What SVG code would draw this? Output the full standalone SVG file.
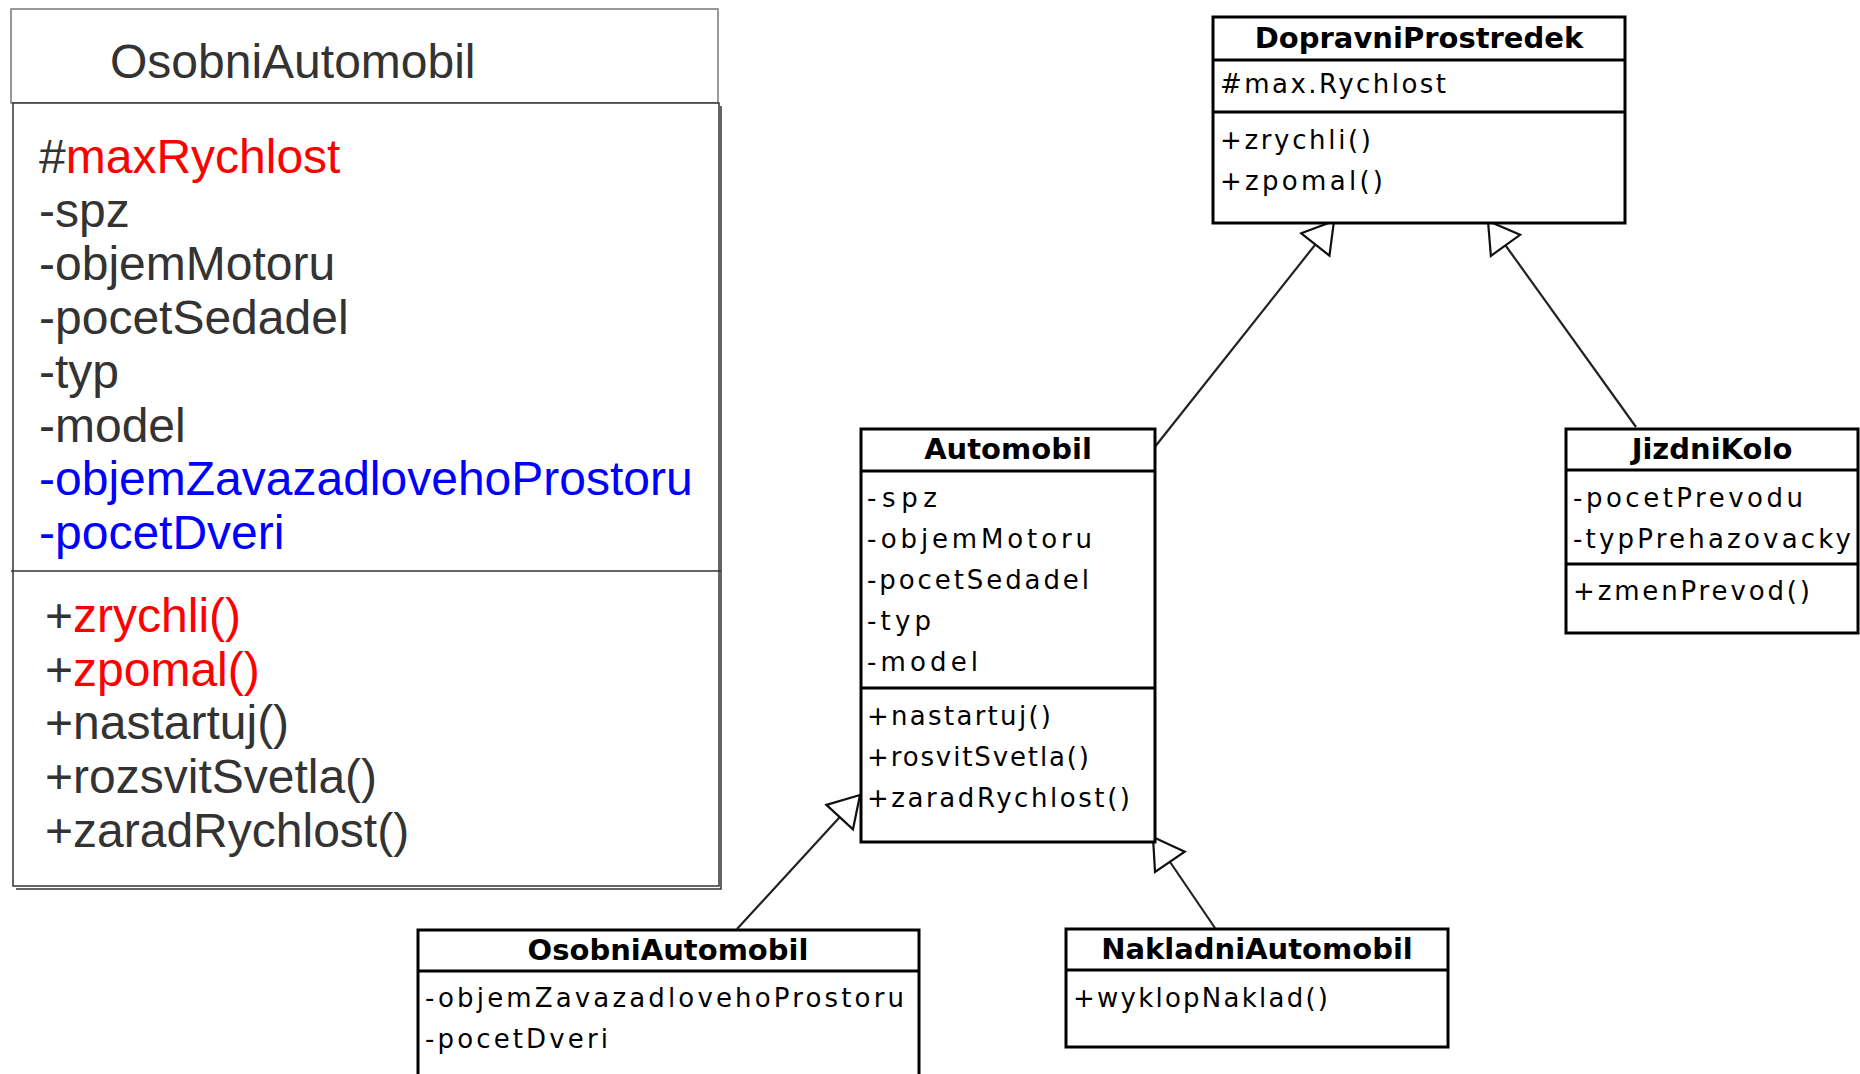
<svg xmlns="http://www.w3.org/2000/svg" width="1860" height="1074" viewBox="0 0 1860 1074">
<style>
.big{font-family:"Liberation Sans",Arial,sans-serif;font-size:48px;fill:#333333}
.red{fill:#ff0000}
.blue{fill:#0000ff}
.box{fill:#ffffff;stroke:#000000;stroke-width:3}
.sep{stroke:#000000;stroke-width:3}
.ttl{font-family:"DejaVu Sans",sans-serif;font-size:29px;font-weight:bold;fill:#000000;text-anchor:middle}
.txt{font-family:"DejaVu Sans",sans-serif;font-size:26px;fill:#000000}
.con{fill:none;stroke:#222222;stroke-width:2.2;marker-end:url(#tri)}
</style>
<defs>
<marker id="tri" markerUnits="userSpaceOnUse" viewBox="-3 -3 36 42" markerWidth="36" markerHeight="42" refX="30" refY="18" orient="auto">
<path d="M0,0 L30,18 L0,36 Z" fill="#ffffff" stroke="#111111" stroke-width="2.2"/>
</marker>
</defs>
<rect width="1860" height="1074" fill="#ffffff"/>

<g id="osobni-detail">
<rect x="11" y="9" width="707" height="94" fill="#ffffff" stroke="#777777" stroke-width="1.5"/>
<polyline points="721,106 721,889 16,889" fill="none" stroke="#333333" stroke-width="1.5"/>
<rect x="13" y="103" width="706" height="783" fill="#ffffff" stroke="#333333" stroke-width="1.5"/>
<line x1="11" y1="571" x2="721" y2="571" stroke="#333333" stroke-width="1.5"/>
<text class="big" x="110" y="78">OsobniAutomobil</text>
<text class="big" x="39" y="173">#<tspan class="red">maxRychlost</tspan></text>
<text class="big" x="39" y="226.7">-spz</text>
<text class="big" x="39" y="280.4">-objemMotoru</text>
<text class="big" x="39" y="334.1">-pocetSedadel</text>
<text class="big" x="39" y="387.8">-typ</text>
<text class="big" x="39" y="441.5">-model</text>
<text class="big blue" x="39" y="495.2">-objemZavazadlovehoProstoru</text>
<text class="big blue" x="39" y="548.9">-pocetDveri</text>
<text class="big" x="45" y="632">+<tspan class="red">zrychli()</tspan></text>
<text class="big" x="45" y="685.5">+<tspan class="red">zpomal()</tspan></text>
<text class="big" x="45" y="739">+nastartuj()</text>
<text class="big" x="45" y="793">+rozsvitSvetla()</text>
<text class="big" x="45" y="846.5">+zaradRychlost()</text>
</g>

<g id="connectors">
<path class="con" d="M1154,448 L1334,221"/>
<path class="con" d="M1636,427 L1488,221"/>
<path class="con" d="M737,929 L860,795"/>
<path class="con" d="M1215,928 L1153,837"/>
</g>

<g id="DopravniProstredek">
<rect class="box" x="1213" y="17" width="412" height="206"/>
<line class="sep" x1="1213" y1="60" x2="1625" y2="60"/>
<line class="sep" x1="1213" y1="112" x2="1625" y2="112"/>
<text class="ttl" x="1419" y="48">DopravniProstredek</text>
<text class="txt" x="1220" y="93" textLength="226" lengthAdjust="spacing">#max.Rychlost</text>
<text class="txt" x="1220" y="149" textLength="151" lengthAdjust="spacing">+zrychli()</text>
<text class="txt" x="1220" y="190" textLength="163" lengthAdjust="spacing">+zpomal()</text>
</g>

<g id="Automobil">
<rect class="box" x="861" y="429" width="294" height="413"/>
<line class="sep" x1="861" y1="471" x2="1155" y2="471"/>
<line class="sep" x1="861" y1="688" x2="1155" y2="688"/>
<text class="ttl" x="1008" y="459">Automobil</text>
<text class="txt" x="867" y="507" textLength="70" lengthAdjust="spacing">-spz</text>
<text class="txt" x="867" y="548" textLength="225" lengthAdjust="spacing">-objemMotoru</text>
<text class="txt" x="867" y="589" textLength="222" lengthAdjust="spacing">-pocetSedadel</text>
<text class="txt" x="867" y="630" textLength="64" lengthAdjust="spacing">-typ</text>
<text class="txt" x="867" y="671" textLength="111" lengthAdjust="spacing">-model</text>
<text class="txt" x="867" y="725" textLength="184" lengthAdjust="spacing">+nastartuj()</text>
<text class="txt" x="867" y="766" textLength="222" lengthAdjust="spacing">+rosvitSvetla()</text>
<text class="txt" x="867" y="807" textLength="263" lengthAdjust="spacing">+zaradRychlost()</text>
</g>

<g id="JizdniKolo">
<rect class="box" x="1566" y="429" width="292" height="204"/>
<line class="sep" x1="1566" y1="470" x2="1858" y2="470"/>
<line class="sep" x1="1566" y1="564" x2="1858" y2="564"/>
<text class="ttl" x="1712" y="459">JizdniKolo</text>
<text class="txt" x="1573" y="507" textLength="230" lengthAdjust="spacing">-pocetPrevodu</text>
<text class="txt" x="1573" y="548" textLength="278" lengthAdjust="spacing">-typPrehazovacky</text>
<text class="txt" x="1573" y="600" textLength="237" lengthAdjust="spacing">+zmenPrevod()</text>
</g>

<g id="OsobniAutomobil">
<rect class="box" x="418" y="930" width="501" height="170"/>
<line class="sep" x1="418" y1="971" x2="919" y2="971"/>
<text class="ttl" x="668" y="960">OsobniAutomobil</text>
<text class="txt" x="425" y="1007" textLength="479" lengthAdjust="spacing">-objemZavazadlovehoProstoru</text>
<text class="txt" x="425" y="1048" textLength="183" lengthAdjust="spacing">-pocetDveri</text>
</g>

<g id="NakladniAutomobil">
<rect class="box" x="1066" y="929" width="382" height="118"/>
<line class="sep" x1="1066" y1="970" x2="1448" y2="970"/>
<text class="ttl" x="1257" y="959">NakladniAutomobil</text>
<text class="txt" x="1073" y="1007" textLength="255" lengthAdjust="spacing">+wyklopNaklad()</text>
</g>
</svg>
